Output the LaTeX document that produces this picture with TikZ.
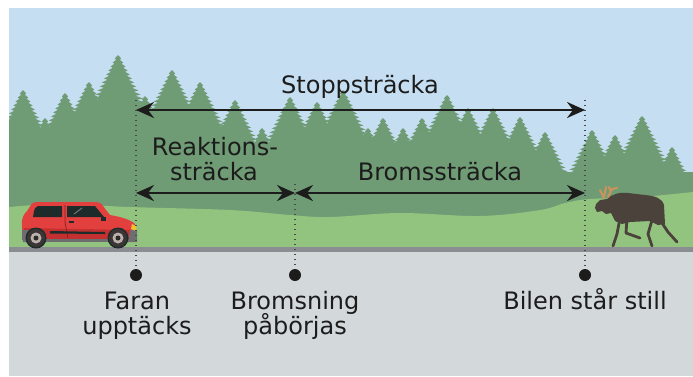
\documentclass[tikz,border=0pt]{standalone}
\usepackage{fontspec}
\setmainfont{DejaVu Sans}
\usetikzlibrary{arrows.meta}

\definecolor{sky}{HTML}{C5DEF1}
\definecolor{forest}{HTML}{6F9B75}
\definecolor{grass}{HTML}{93C47F}
\definecolor{roadline}{HTML}{8A8E92}
\definecolor{ground}{HTML}{D3D8DB}
\definecolor{ink}{HTML}{1C1C1C}
\definecolor{carred}{HTML}{E2403F}
\definecolor{carshade}{HTML}{C4302F}
\definecolor{glass}{HTML}{1E2B2B}
\definecolor{tyre}{HTML}{3B3535}
\definecolor{rim}{HTML}{B9B1AA}
\definecolor{bumper}{HTML}{6E6E70}
\definecolor{lamp}{HTML}{F2C12E}
\definecolor{moose}{HTML}{4B423C}
\definecolor{antler}{HTML}{C8935C}

\begin{document}
\begin{tikzpicture}[x=1pt,y=-1pt,
  lbl/.style={font=\fontsize{24}{25}\selectfont, text=ink, inner sep=0pt},
  measure/.style={ink, line width=2.5pt,
    {Stealth[length=18pt,width=16pt,inset=6pt]}-{Stealth[length=18pt,width=16pt,inset=6pt]}},
  dotline/.style={ink!80, line width=1.3pt, dash pattern=on 1.3pt off 3.7pt},
  marker/.style={circle, fill=ink, minimum size=12pt, inner sep=0pt},
  leg/.style={moose, line width=2.8pt, line cap=round, line join=round}]

\useasboundingbox (0,0) rectangle (693,376);
\fill[white] (0,0) rectangle (693,376);

\begin{scope}
\clip (9,8) rectangle (693,376);
% sky and the mass of the forest behind the trees
\fill[sky] (9,8) rectangle (693,250);
\fill[forest] (9,172) rectangle (693,250);

% spruce silhouettes: x of the top / y of the top
\foreach \tx/\ty in {23/90, 45/118, 65/93, 89/82, 118/55, 145/96, 172/70, 200/82,
                     235/100, 262/128, 290/97, 317/102, 343/90, 368/128, 383/118, 403/128,
                     422/118, 447/95, 468/108, 493/108, 520/117, 545/132,
                     592/130, 615/135, 642/116, 672/147, 700/165}{
  \fill[forest] (\tx,\ty)
    \foreach \k in {1,...,36}{
      -- ({\tx+0.54*4*\k+1},{\ty+4*\k-0.5}) -- ({\tx+0.44*4*\k},{\ty+4*\k+0.8}) }
    \foreach \k in {36,...,1}{
      -- ({\tx-0.44*4*\k},{\ty+4*\k+0.8}) -- ({\tx-0.54*4*\k-1},{\ty+4*\k-0.5}) }
    -- cycle;
}

% meadow
\fill[grass] plot[smooth, tension=0.6] coordinates {(9,207) (60,204) (130,207)
  (230,210) (290,215) (330,217) (400,213) (480,216) (540,210) (565,203)
  (590,199) (640,197) (693,192)} -- (693,250) -- (9,250) -- cycle;

% road edge and road surface
\fill[roadline] (9,247) rectangle (693,252);
\fill[ground] (9,252) rectangle (693,376);

% ---------- car ----------
\fill[bumper] (22,226) rectangle (28,240);
\fill[carred] (23,240) -- (22,226) .. controls (21,218) and (24,214) .. (27,211)
  -- (31,205) .. controls (33,202) and (36,202) .. (40,202) -- (96,202)
  .. controls (99,202) and (101,203) .. (103,206) -- (110,215)
  .. controls (122,217) and (131,220) .. (135,224) -- (136,232) -- (136,240) -- cycle;
\fill[carshade] (24,228) -- (135,230) -- (136,240) -- (23,240) -- cycle;
\fill[bumper] (130,230) -- (137,230) -- (137,242) -- (128,242) -- cycle;
\fill[bumper] (22,230) -- (29,230) -- (29,242) -- (23,242) -- cycle;
\fill[bumper] (44,239) rectangle (110,242);
\fill[lamp] (132,224) -- (136,226) -- (136,231) -- (131,229) -- cycle;
% windows
\fill[glass] (38,206) -- (62,206) -- (62,217) -- (33,217) -- (34,211) .. controls (35,208) .. (38,206) -- cycle;
\fill[glass] (67,206) -- (95,206) -- (104,217) -- (67,217) -- cycle;
\fill[glass] (101,217) rectangle (106,221);
\draw[white, opacity=0.35, line width=1pt] (74,214) -- (82,208);
% door seam, handle and side strip
\draw[carshade!70!black, line width=0.8pt] (65,205) -- (65,222) -- (68,238);
\fill[glass] (69,221) rectangle (74,223);
\fill[glass] (50,231) -- (105,232) -- (105,234) -- (50,233.5) -- cycle;
% wheels
\foreach \wx in {36,118}{
  \fill[glass] (\wx,238) circle (10.5pt);
  \fill[tyre] (\wx,238) circle (9pt);
  \fill[rim] (\wx,238) circle (5.5pt);
  \fill[tyre!80!black] (\wx,238) circle (2.5pt);
}

% ---------- moose ----------
\draw[leg] (620,218) -- (617,234) -- (613,246);
\draw[leg] (627,218) -- (626,233) -- (640,238);
\draw[leg] (652,220) -- (648,234) -- (652,246);
\draw[leg] (660,220) -- (668,232) -- (677,242);
\fill[moose] (607,199) .. controls (612,194) and (620,192) .. (628,193)
  -- (645,195) .. controls (655,196) and (662,198) .. (664,205)
  -- (665,224) -- (658,225) -- (650,221) -- (630,222) -- (622,224) -- (615,221)
  -- (611,213) -- (606,214) -- (602,211) -- (597,212) -- (595,208) -- (596,204)
  -- (600,200) -- cycle;
\draw[antler, line width=2.2pt, line cap=round, line join=round]
  (604,198) -- (600,190) (604,197) -- (606,187) (608,197) -- (612,189) -- (617,188)
  (611,192) -- (609,187);

\end{scope}

% ---------- markers and measurements ----------
\node[marker] (faran) at (136,275) {};
\node[marker] (bromsn) at (295,275) {};
\node[marker] (still) at (585,275) {};
\coordinate (top1) at (136,100);
\coordinate (top2) at (295,184);
\coordinate (top3) at (585,100);
\draw[dotline] (top1) -- (faran);
\draw[dotline] (top2) -- (bromsn);
\draw[dotline] (top3) -- (still);

\coordinate (s1) at (136,110);
\coordinate (s2) at (585,110);
\coordinate (r1) at (136,193);
\coordinate (r2) at (295,193);
\coordinate (b2) at (585,193);
\draw[measure] (s1) -- (s2);
\draw[measure] (r1) -- (r2);
\draw[measure] (r2) -- (b2);

% ---------- labels ----------
\node[lbl, anchor=base] (stopp) at (360,93) {Stoppsträcka};
\node[lbl, anchor=base] (reak1) at (215,155) {Reaktions-};
\node[lbl, anchor=base] (reak2) at (214,180) {sträcka};
\node[lbl, anchor=base] (broms) at (440,180) {Bromssträcka};
\node[lbl, anchor=base] (faranA) at (137,309) {Faran};
\node[lbl, anchor=base] (faranB) at (137,334) {upptäcks};
\node[lbl, anchor=base] (bromsA) at (295,309) {Bromsning};
\node[lbl, anchor=base] (bromsB) at (295,334) {påbörjas};
\node[lbl, anchor=base] (stillA) at (585,309) {Bilen står still};
\end{tikzpicture}
\end{document}
